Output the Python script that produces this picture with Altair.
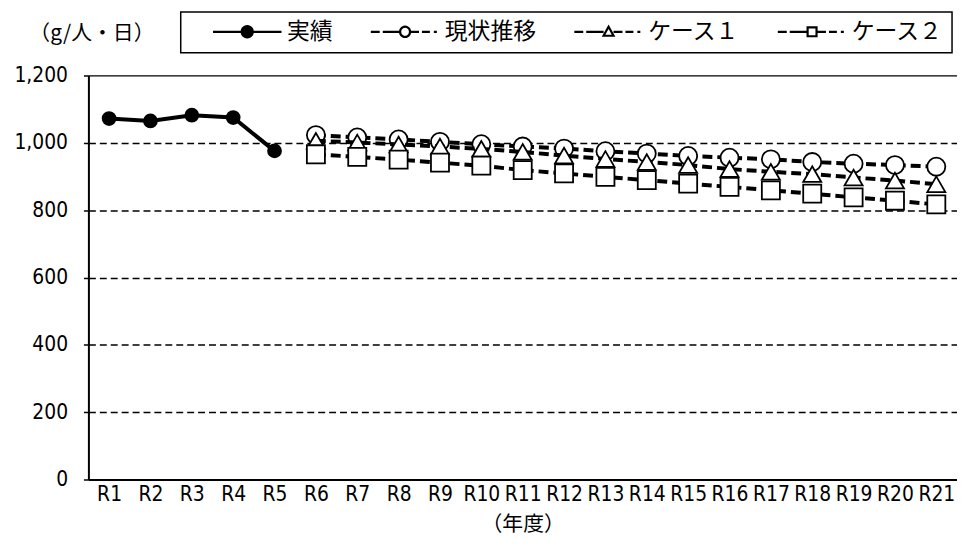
import altair as alt
import pandas as pd

# ---------------- data ----------------
years = ["R1", "R2", "R3", "R4", "R5", "R6", "R7", "R8", "R9", "R10", "R11",
         "R12", "R13", "R14", "R15", "R16", "R17", "R18", "R19", "R20", "R21"]
actual_years = ["R1", "R2", "R3", "R4", "R5"]
actual = [1072, 1065, 1082, 1075, 976]
proj_years = ["R6", "R7", "R8", "R9", "R10", "R11", "R12", "R13", "R14", "R15",
              "R16", "R17", "R18", "R19", "R20", "R21"]
current = [1023, 1016, 1010, 1003, 996, 989, 983, 975, 968, 961, 956, 951, 943, 938, 934, 929]
case1 = [1006, 1001, 995, 989, 982, 973, 962, 952, 943, 934, 922, 914, 907, 897, 888, 877]
case2 = [966, 958, 950, 941, 932, 919, 909, 899, 889, 879, 869, 859, 849, 838, 828, 817]
series_names = ["実績", "現状推移", "ケース１", "ケース２"]
y_ticks = [0, 200, 400, 600, 800, 1000, 1200]

rows = []
for y, v in zip(actual_years, actual):
    rows.append({"year": y, "value": v, "series": series_names[0]})
for name, vals in zip(series_names[1:], [current, case1, case2]):
    for y, v in zip(proj_years, vals):
        rows.append({"year": y, "value": v, "series": name})
df = pd.DataFrame(rows)

# ---------------- style ----------------
NUM_FONT = "Liberation Sans Narrow, DejaVu Sans Condensed, Liberation Sans, Noto Sans CJK JP"
JP_FONT = "Noto Sans CJK JP"

x_enc = alt.X(
    "year:N", sort=years,
    scale=alt.Scale(type="point", domain=years, padding=0.5),
    axis=alt.Axis(title="（年度）", labelAngle=0, ticks=False, labelOverlap=False,
                  labelBound=False, labelFont=NUM_FONT, labelFontSize=21,
                  labelColor="black", labelPadding=4, domainColor="black",
                  domainWidth=2, titleFont=JP_FONT, titleFontSize=21,
                  titleFontWeight="normal", titleColor="black", titlePadding=9,
                  grid=False),
)
y_enc = alt.Y(
    "value:Q",
    scale=alt.Scale(domain=[0, 1200], nice=False, zero=True),
    axis=alt.Axis(values=y_ticks, format=",d", title="（g/人・日）", titleAngle=0,
                  titleX=3, titleY=-42, titleAlign="center", titleBaseline="middle",
                  titleFont=JP_FONT, titleFontSize=21, titleFontWeight="normal",
                  titleColor="black", labelFont=NUM_FONT, labelFontSize=21,
                  labelColor="black", labelPadding=16, ticks=True, tickSize=5,
                  tickColor="black", tickWidth=1.5, domainColor="black", domainWidth=2,
                  grid=True, gridColor="black", gridWidth=1.3,
                  gridDash={"condition": {"test": "datum.value === 1200", "value": []},
                            "value": [7, 4]},
                  gridOpacity={"condition": {"test": "datum.value === 0", "value": 0},
                               "value": 1}),
)

line_dash = [None, [10, 5], [10, 5], [10, 5]]
point_shape = ["circle", "circle", "triangle-up", "square"]
point_fill = ["black", "white", "white", "white"]
point_size = [170, 330, 330, 330]

base = alt.Chart(df)
layers = []
for i, name in enumerate(series_names):
    sub = base.transform_filter(alt.datum.series == name)
    lkw = dict(color="black", strokeWidth=4)
    if line_dash[i]:
        lkw["strokeDash"] = line_dash[i]
    layers.append(sub.mark_line(**lkw).encode(x=x_enc, y=y_enc))
    layers.append(sub.mark_point(shape=point_shape[i], filled=True, fill=point_fill[i],
                                 stroke="black", strokeWidth=1.8, size=point_size[i],
                                 opacity=1).encode(x=x_enc, y=y_enc))

# ---------------- legend symbols (custom paths) ----------------
H = 45.5  # half of symbol box in px


def u(v):
    return f"{v / H:.4f}"


L, R, C, r = -23.5, 45.5, 11.0, 5.0


def solid_line():
    return f"M{u(L)},0H{u(C - r)}M{u(C + r)},0H{u(R)}"


def dashed_line():
    p = f"M{u(L)},0H{u(L + 9)}M{u(L + 12)},0H{u(C - r)}"
    s = C + r
    p += f"M{u(s)},0H{u(s + 9)}M{u(s + 12)},0H{u(s + 20)}M{u(s + 24)},0H{u(s + 27)}"
    return p


def circ(rad):
    return (f"M{u(C - rad)},0A{u(rad)},{u(rad)} 0 1,0 {u(C + rad)},0"
            f"A{u(rad)},{u(rad)} 0 1,0 {u(C - rad)},0Z")


def tri(rad):
    return f"M{u(C)},{u(-rad)}L{u(C + rad)},{u(rad * 0.8)}L{u(C - rad)},{u(rad * 0.8)}Z"


def sq(rad):
    return (f"M{u(C - rad)},{u(-rad)}L{u(C + rad)},{u(-rad)}L{u(C + rad)},{u(rad)}"
            f"L{u(C - rad)},{u(rad)}Z")


legend_paths = [solid_line() + circ(5.5), dashed_line() + circ(5), dashed_line() + tri(5),
                dashed_line() + sq(4.5)]

legend_obj = alt.Legend(title=None, orient="none", legendX=93, legendY=-64,
                        direction="horizontal", columns=4, padding=9,
                        strokeColor="black", fillColor="white", symbolSize=8281,
                        symbolStrokeColor="black", symbolStrokeWidth=2.2,
                        symbolOpacity=1, labelFont=JP_FONT, labelFontSize=23,
                        labelColor="black", labelOffset=4, columnPadding=15,
                        clipHeight=22, labelLimit=300, labelBaseline="middle")

legend_df = pd.DataFrame({"series": series_names})
legend_layer = alt.Chart(legend_df).transform_filter("false").mark_point(
    filled=True, strokeWidth=2.2, size=8281, opacity=1
).encode(
    shape=alt.Shape("series:N", scale=alt.Scale(domain=series_names, range=legend_paths),
                    legend=legend_obj),
    fill=alt.Fill("series:N", scale=alt.Scale(domain=series_names,
                                              range=["black", "white", "white", "white"]),
                  legend=legend_obj),
    stroke=alt.Stroke("series:N", scale=alt.Scale(domain=series_names,
                                                  range=["black", "black", "black", "black"]),
                      legend=legend_obj),
)

chart = alt.layer(*layers, legend_layer).properties(
    width=875, height=407,
    autosize=alt.AutoSizeParams(type="none"),
    padding={"left": 81, "top": 66, "right": 0, "bottom": 64},
).configure_view(stroke=None).configure_legend(strokeWidth=1.5)

chart.save("out.html", embed_options={"renderer": "svg", "actions": False})
